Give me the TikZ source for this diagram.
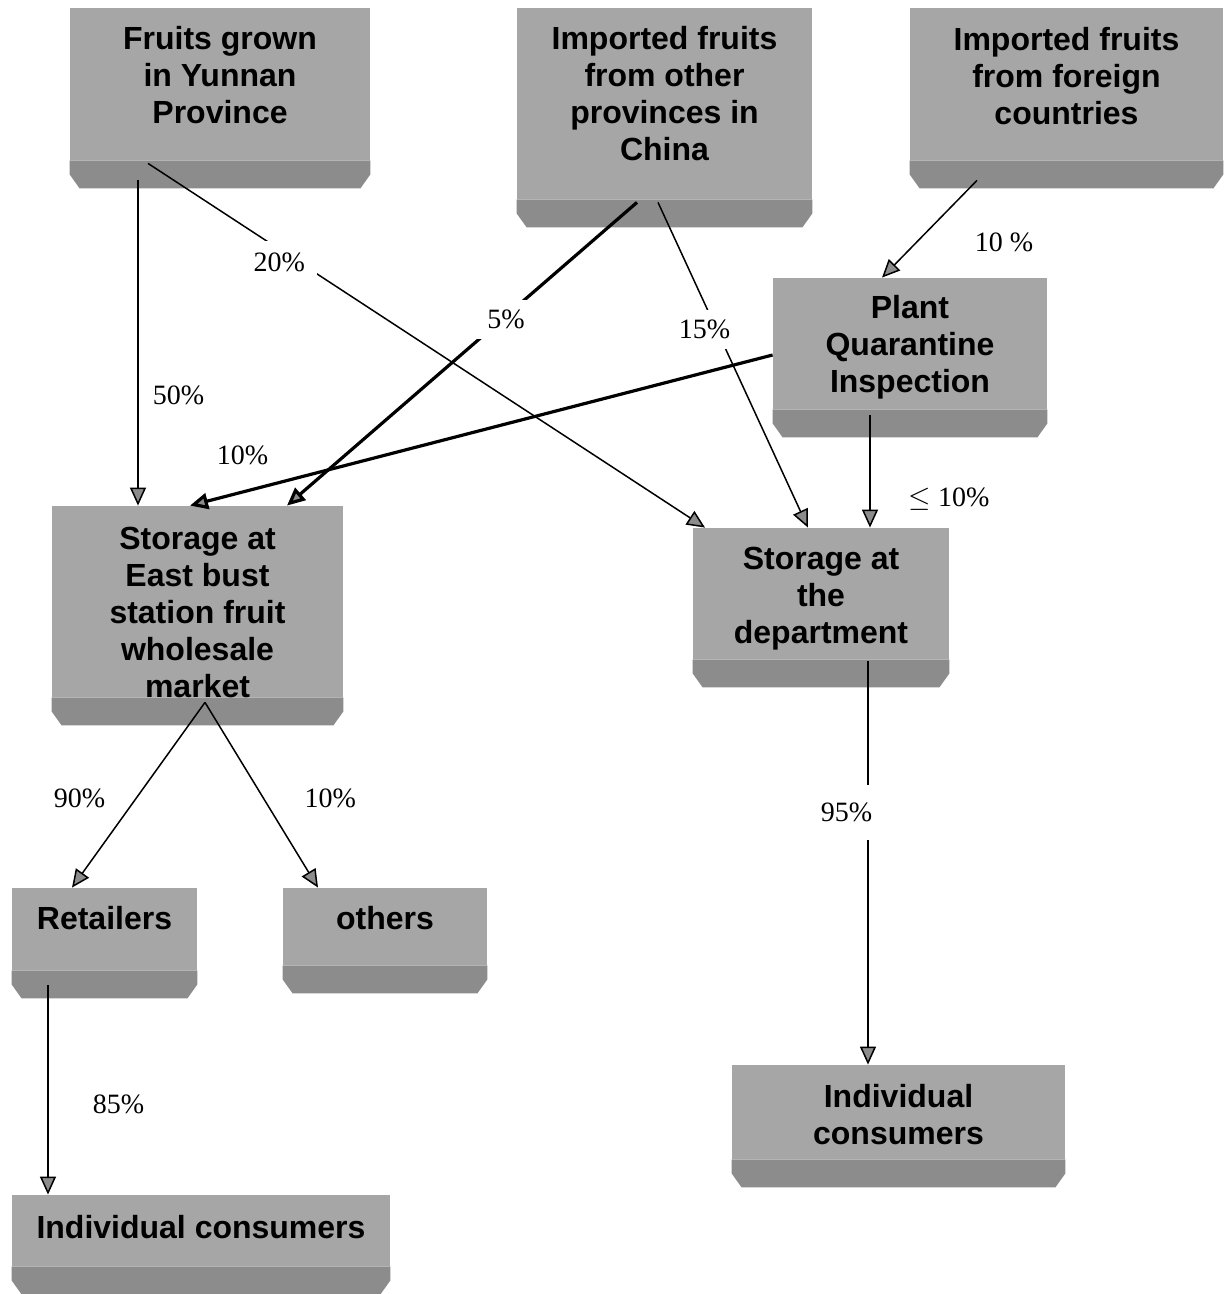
\documentclass[tikz,border=0pt]{standalone}
\usepackage{fontspec}
\setmainfont{Liberation Serif}
\newfontfamily\boxfont{Liberation Sans}
\usetikzlibrary{arrows.meta, backgrounds, calc}
\colorlet{boxtop}{black!35}
\colorlet{boxbase}{black!45}
\tikzstyle{stage} = [rectangle, align=center, inner sep=0pt, font=\boxfont\bfseries\fontsize{16}{18.5}\selectfont]
\tikzstyle{arrow} = [line width=0.75pt, -{Triangle[length=9pt, width=8pt, fill=black!45]}]
\tikzstyle{heavy} = [line width=1.6pt]
\tikzstyle{share} = [font=\fontsize{14}{16}\selectfont, inner sep=1pt]
\tikzstyle{gap} = [fill=white, inner sep=5pt]

\begin{document}
\begin{tikzpicture}[x=0.5pt, y=-0.5pt]
                \useasboundingbox (0,0) rectangle (1231,1294);

                % Nodes
                \node (yunnan) [stage, text height=40pt, text depth=0pt, minimum width=150pt, minimum height=76pt] at (220,84) {Fruits grown\\in Yunnan\\Province};
                \node (china) [stage, text height=57.5pt, text depth=0pt, minimum width=147.5pt, minimum height=95.5pt] at (664.5,103.5) {Imported fruits\\from other\\provinces in\\China};
                \node (foreign) [stage, text height=41pt, text depth=0pt, minimum width=156.5pt, minimum height=76pt] at (1066.5,84) {Imported fruits\\from foreign\\countries};
                \node (quarantine) [stage, text height=49.5pt, text depth=0pt, minimum width=137pt, minimum height=65.5pt] at (910,343.5) {Plant\\Quarantine\\Inspection};
                \node (eastmarket) [stage, text height=95.5pt, text depth=-2pt, minimum width=145.5pt, minimum height=93.5pt] at (197.5,601.5) {Storage at\\East bust\\station fruit\\wholesale\\market};
                \node (department) [stage, text height=49.5pt, text depth=0pt, minimum width=128pt, minimum height=65.5pt] at (821,593.5) {Storage at\\the\\department};
                \node (retailers) [stage, text height=12pt, text depth=12pt, minimum width=92.5pt, minimum height=41pt] at (104.5,929) {Retailers};
                \node (others) [stage, text height=12pt, text depth=9.5pt, minimum width=102pt, minimum height=38.5pt] at (385,926.5) {others};
                \node (consumersL) [stage, text height=12pt, text depth=4.5pt, minimum width=189pt, minimum height=35.5pt] at (201,1230.5) {Individual consumers};
                \node (consumersR) [stage, text height=32pt, text depth=0pt, minimum width=166.5pt, minimum height=47pt] at (898.5,1112) {Individual\\consumers};

                % Box shading
                \begin{scope}[on background layer]
                \foreach \n in {yunnan,china,foreign,quarantine,eastmarket,department,retailers,others,consumersL,consumersR} {
                        \fill [boxtop] (\n.north west) rectangle (\n.south east);
                        \fill [boxbase] (\n.south west) -- (\n.south east) -- ($(\n.south east)+(0,14)$) -- ($(\n.south east)+(-10,28)$) -- ($(\n.south west)+(10,28)$) -- ($(\n.south west)+(0,14)$) -- cycle;
                }
                \end{scope}

                % Arrows
                \draw [arrow] ([xshift=-41pt,yshift=-10pt]yunnan.south) -- node[share, pos=0.66, right=6pt] {50\%} ([xshift=-29.75pt]eastmarket.north);
                \draw [arrow] ([xshift=-36pt,yshift=-1.5pt]yunnan.south) -- node[share, gap, inner sep=6pt, pos=0.25, xshift=-4pt, yshift=-4pt] {20\%} ([xshift=-58pt]department.north);
                \draw [arrow, heavy] ([xshift=-13.75pt,yshift=-1.5pt]china.south) -- node[share, gap, pos=0.36, xshift=-2.5pt, yshift=-4pt] {5\%} ([xshift=44.75pt]eastmarket.north);
                \draw [arrow] ([xshift=-3.25pt,yshift=-1.5pt]china.south) -- node[share, gap, pos=0.39, xshift=-6pt] {15\%} ([xshift=-6.5pt]department.north);
                \draw [arrow] ([xshift=-44.75pt,yshift=-10pt]foreign.south) -- node[share, pos=0.64, right=28pt] {10 \%} ([xshift=-14pt]quarantine.north);
                \draw [arrow, heavy] ([yshift=-5.75pt]quarantine.west) -- node[share, pos=0.91, above=12pt] {10\%} ([xshift=-3.75pt]eastmarket.north);
                \draw [arrow] ([xshift=-20pt,yshift=-3pt]quarantine.south) -- node[share, pos=0.75, right=18pt] {$\leq$ 10\%} ([xshift=24.5pt]department.north);
                \draw [arrow] ([xshift=23.5pt,yshift=-1pt]department.south) -- node[share, gap, inner ysep=9pt, pos=0.375, anchor=east, xshift=7.5pt] {95\%} ([xshift=-15.25pt]consumersR.north);
                \draw [arrow] ([xshift=3.75pt,yshift=-2.5pt]eastmarket.south) -- node[share, pos=0.52, left=14pt] {90\%} ([xshift=-16.25pt]retailers.north);
                \draw [arrow] ([xshift=3.75pt,yshift=-2.5pt]eastmarket.south) -- node[share, pos=0.52, right=19pt] {10\%} ([xshift=-33.5pt]others.north);
                \draw [arrow] ([xshift=-28.25pt,yshift=-7.5pt]retailers.south) -- node[share, pos=0.57, right=21pt] {85\%} ([xshift=-76.5pt]consumersL.north);
            \end{tikzpicture}
\end{document}
